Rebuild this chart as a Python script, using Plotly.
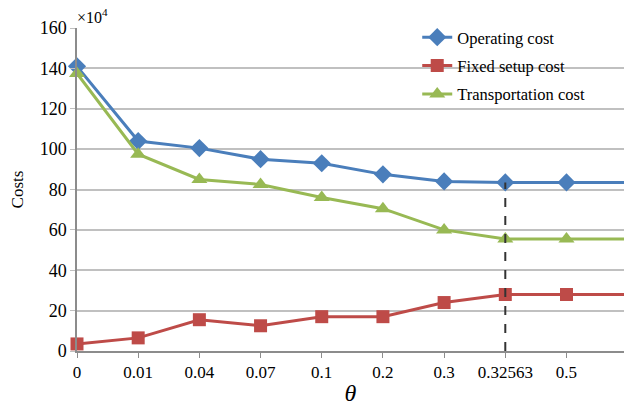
import plotly.graph_objects as go

categories = ["0", "0.01", "0.04", "0.07", "0.1", "0.2", "0.3", "0.32563", "0.5", "0.7"]
operating_cost = [141, 104, 100.5, 95, 93, 87.5, 84, 83.5, 83.5, 83.5]
fixed_setup_cost = [3.5, 6.5, 15.5, 12.5, 17, 17, 24, 28, 28, 28]
transportation_cost = [137.5, 97.5, 85, 82.5, 76, 70.5, 60, 55.5, 55.5, 55.5]
y_ticks = [0, 20, 40, 60, 80, 100, 120, 140, 160]
marked_category = 7

xs = list(range(len(categories)))
font = "Liberation Serif, DejaVu Serif, serif"

fig = go.Figure()
fig.add_trace(go.Scatter(x=xs, y=operating_cost, name="Operating cost", mode="lines+markers",
                         legendgroup="a",
                         line=dict(color="#4a7ebb", width=3),
                         marker=dict(symbol="diamond", size=14, color="#4a7ebb"), cliponaxis=False))
fig.add_trace(go.Scatter(x=xs, y=fixed_setup_cost, name="Fixed setup cost", mode="lines+markers",
                         legendgroup="b",
                         line=dict(color="#be4b48", width=3),
                         marker=dict(symbol="square", size=13, color="#be4b48"), cliponaxis=False))
fig.add_trace(go.Scatter(x=xs, y=transportation_cost, name="Transportation cost", mode="lines+markers",
                         legendgroup="c",
                         line=dict(color="#98b954", width=3),
                         marker=dict(symbol="triangle-up", size=14, color="#98b954"), cliponaxis=False))

fig.add_shape(type="line", x0=marked_category, x1=marked_category, y0=0,
              y1=operating_cost[marked_category], xref="x", yref="y",
              line=dict(color="#333333", width=2, dash="dash"), layer="above")

fig.add_annotation(text="×10<sup>4</sup>", xref="paper", yref="paper", x=0, y=1.0,
                   xanchor="left", yanchor="bottom", showarrow=False, xshift=-2,
                   font=dict(family=font, size=16, color="black"))

fig.update_layout(
    width=624, height=406,
    margin=dict(l=77, r=0, t=28, b=55),
    paper_bgcolor="white", plot_bgcolor="white",
    font=dict(family=font, color="black"),
    showlegend=True,
    legend=dict(x=0.622, y=1.025, xanchor="left", yanchor="top", bgcolor="rgba(0,0,0,0)",
                font=dict(family=font, size=16.5), itemwidth=30, tracegroupgap=4),
    xaxis=dict(range=[0, 8.94], tickvals=xs[:-1], ticktext=categories[:-1], automargin=False,
               showgrid=False, zeroline=False, showline=True, linecolor="#8c8c8c", linewidth=2,
               ticks="outside", ticklen=5, tickcolor="#8c8c8c",
               tickfont=dict(family=font, size=17),
               title=dict(text="<i>θ</i>", font=dict(family=font, size=24), standoff=6)),
    yaxis=dict(range=[0, 160], tickvals=y_ticks, showgrid=True, gridcolor="#c0c0c0", gridwidth=1.5,
               automargin=False,
               zeroline=False, showline=True, linecolor="#8c8c8c", linewidth=1.5,
               ticks="outside", ticklen=5, tickcolor="#c0c0c0",
               tickfont=dict(family=font, size=18),
               title=dict(text="Costs", font=dict(family=font, size=17), standoff=12)),
)

fig.write_html("out.html", config={"displayModeBar": False},
               post_script="document.body.style.margin='0';document.body.style.overflow='hidden';")
